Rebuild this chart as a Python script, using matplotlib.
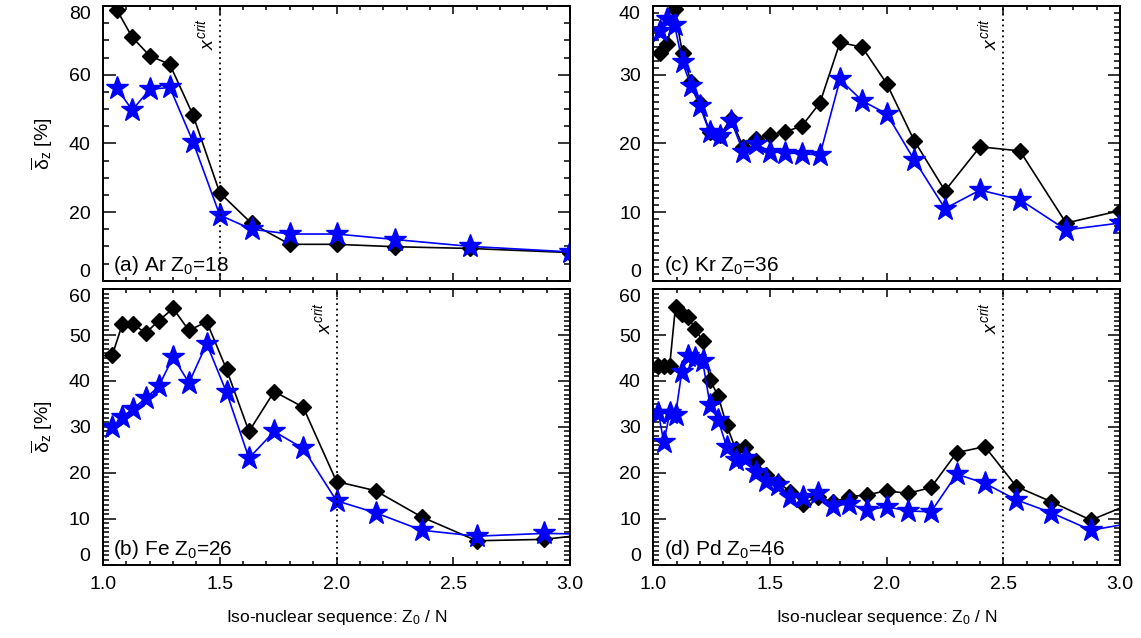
import matplotlib
matplotlib.use("Agg")
import matplotlib.pyplot as plt
from matplotlib.ticker import MultipleLocator, FixedLocator
from matplotlib.transforms import blended_transform_factory

plt.rcParams["font.family"] = ["Liberation Sans", "DejaVu Sans"]
plt.rcParams["mathtext.fontset"] = "custom"
plt.rcParams["mathtext.rm"] = "Liberation Sans"
plt.rcParams["mathtext.it"] = "Liberation Sans:italic"
plt.rcParams["mathtext.bf"] = "Liberation Sans:bold"

# -----------------------------
# Data: mean deviation vs Z0/N
# -----------------------------

# (a) Ar, Z0 = 18
x_ar = [1.059, 1.125, 1.200, 1.286, 1.385, 1.500, 1.636, 1.800, 2.000, 2.250, 2.571, 3.000]
black_ar = [78.9, 70.9, 65.5, 63.0, 48.3, 25.6, 16.7, 10.6, 10.6, 9.9, 9.4, 8.2]
blue_ar = [56.0, 49.7, 55.7, 56.3, 40.5, 19.1, 15.0, 13.6, 13.6, 12.0, 10.0, 8.4]

# (b) Fe, Z0 = 26
x_fe = [1.040, 1.083, 1.130, 1.182, 1.238, 1.300, 1.368, 1.444, 1.529, 1.625,
        1.733, 1.857, 2.000, 2.167, 2.364, 2.600, 2.889, 3.250]
black_fe = [45.7, 52.4, 52.4, 50.4, 53.1, 55.8, 51.0, 52.9, 42.5, 29.0,
            37.7, 34.3, 18.1, 16.1, 10.4, 5.2, 5.5, 7.6]
blue_fe = [30.0, 32.2, 34.0, 36.2, 38.8, 45.2, 39.6, 48.1, 37.5, 23.2,
           29.0, 25.3, 13.9, 11.3, 7.5, 6.2, 6.8, 6.5]

# (c) Kr, Z0 = 36
x_kr = [1.029, 1.059, 1.091, 1.125, 1.161, 1.200, 1.241, 1.286, 1.333, 1.385,
        1.440, 1.500, 1.565, 1.636, 1.714, 1.800, 1.895, 2.000, 2.118, 2.250,
        2.400, 2.571, 2.769, 3.000]
black_kr = [33.1, 34.4, 39.5, 33.1, 29.0, 25.9, 21.7, 21.2, 23.6, 19.5,
            20.7, 21.2, 21.7, 22.5, 25.9, 34.7, 34.0, 28.7, 20.4, 13.1,
            19.5, 18.9, 8.4, 10.2]
blue_kr = [36.3, 38.1, 37.2, 31.8, 28.4, 25.4, 21.6, 21.0, 23.3, 18.8,
           19.9, 18.8, 18.6, 18.5, 18.3, 29.3, 26.2, 24.3, 17.6, 10.5,
           13.2, 11.8, 7.4, 8.4]

# (d) Pd, Z0 = 46
x_pd = [1.022, 1.045, 1.070, 1.095, 1.122, 1.150, 1.179, 1.211, 1.243, 1.278,
        1.314, 1.353, 1.394, 1.438, 1.484, 1.533, 1.586, 1.643, 1.704, 1.769,
        1.840, 1.917, 2.000, 2.091, 2.190, 2.300, 2.421, 2.556, 2.706, 2.875,
        3.067]
black_pd = [43.3, 43.3, 43.3, 56.2, 54.6, 53.9, 51.3, 48.8, 40.2, 36.7,
            30.4, 25.1, 25.6, 22.6, 19.6, 18.0, 15.9, 13.3, 14.8, 13.6,
            14.8, 15.2, 16.1, 15.5, 16.8, 24.4, 25.7, 17.0, 13.7, 9.7,
            13.7]
blue_pd = [33.0, 26.6, 33.0, 32.6, 42.0, 45.5, 45.0, 44.4, 34.8, 31.5,
           25.7, 22.8, 23.2, 20.2, 18.3, 17.4, 14.8, 14.8, 15.5, 12.8,
           13.2, 11.9, 12.6, 11.7, 11.5, 19.7, 17.7, 14.1, 11.3, 7.5,
           9.2]

panels = [
    # label, x, black, blue, x_crit, ymax, y major, y minor
    ("(a) Ar Z$_0$=18", x_ar, black_ar, blue_ar, 1.5, 80, 20, 5),
    ("(b) Fe Z$_0$=26", x_fe, black_fe, blue_fe, 2.0, 60, 10, 1),
    ("(c) Kr Z$_0$=36", x_kr, black_kr, blue_kr, 2.5, 40, 10, 1),
    ("(d) Pd Z$_0$=46", x_pd, black_pd, blue_pd, 2.5, 60, 10, 1),
]

# axes rectangles [left, bottom, width, height]
rects = [
    [0.0903, 0.5600, 0.4093, 0.4306],
    [0.0903, 0.1150, 0.4093, 0.4318],
    [0.5726, 0.5600, 0.4090, 0.4306],
    [0.5726, 0.1150, 0.4090, 0.4318],
]

FS_TICK = 14
FS_LABEL = 15
FS_AXIS = 12.5

fig = plt.figure(figsize=(11.41, 6.38), dpi=100)

for i, (label, x, yk, yb, xc, ymax, ymaj, ymin) in enumerate(panels):
    ax = fig.add_axes(rects[i])
    bottom_row = i in (1, 3)
    left_col = i in (0, 1)

    ax.plot(x, yk, color="black", marker="D", markersize=8, linewidth=1.2)
    ax.plot(x, yb, color="blue", marker="*", markersize=17, linewidth=1.2)

    ax.axvline(xc, color="black", linestyle=(0, (1, 2)), linewidth=1.3)
    trans = blended_transform_factory(ax.transData, ax.transAxes)
    ax.text(xc - 0.012, 0.955, r"$x^{crit}$", rotation=90, ha="right", va="top",
            fontsize=14, transform=trans)

    ax.text(0.022, 0.012, label, transform=ax.transAxes, ha="left", va="bottom",
            fontsize=FS_LABEL)

    ax.set_xlim(1.0, 3.0)
    ax.set_ylim(0, ymax)
    ax.xaxis.set_major_locator(FixedLocator([1.0, 1.5, 2.0, 2.5, 3.0]))
    ax.xaxis.set_minor_locator(MultipleLocator(0.1))
    ax.yaxis.set_major_locator(FixedLocator(list(range(0, ymax + 1, ymaj))))
    ax.yaxis.set_minor_locator(MultipleLocator(ymin))

    ax.tick_params(which="both", direction="in", top=True, right=True,
                   labelsize=FS_TICK, width=1.1)
    ax.tick_params(axis="x", which="major", length=6, pad=8)
    ax.tick_params(axis="x", which="minor", length=3)
    ax.tick_params(axis="y", which="major", length=9, pad=9)
    ax.tick_params(axis="y", which="minor", length=4.5)
    for sp in ax.spines.values():
        sp.set_linewidth(1.4)

    if bottom_row:
        ax.set_xticklabels(["1.0", "1.5", "2.0", "2.5", "3.0"])
        ax.set_xlabel("Iso-nuclear sequence: Z$_0$ / N", fontsize=FS_AXIS,
                      labelpad=11)
    else:
        ax.set_xticklabels([])

    # keep the end labels inside the axis span
    ylabels = ax.get_yticklabels()
    ylabels[0].set_va("bottom")
    ylabels[-1].set_va("top")

    if left_col:
        ax.set_ylabel(r"$\overline{\mathrm{\delta}}_\mathrm{z}$ [%]", fontsize=14,
                      labelpad=10)

fig.savefig("out.png", dpi=100)
